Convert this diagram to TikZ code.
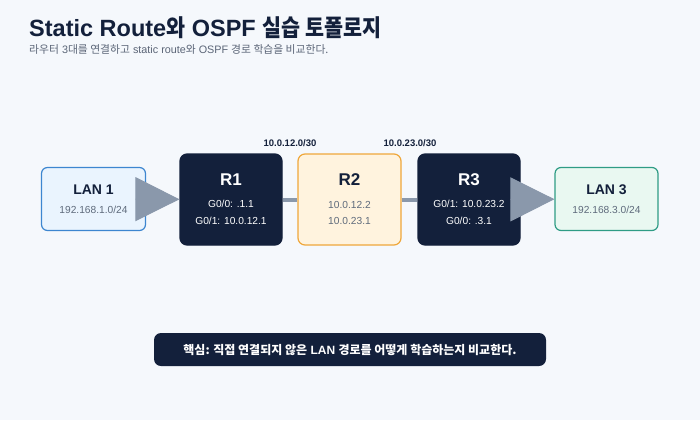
\documentclass[tikz,border=0pt]{standalone}
\usepackage{fontspec}
\setmainfont{Liberation Sans}
\newfontfamily\kofont{Noto Sans CJK KR}
\newfontfamily\kotitlefont[FakeStretch=0.88]{Noto Sans CJK KR}
\newcommand{\ko}[1]{{\kofont #1}}
\newcommand{\kotitle}[1]{{\kotitlefont #1}}
\usetikzlibrary{arrows.meta}

\definecolor{pagebg}{HTML}{F5F8FC}
\definecolor{navy}{HTML}{13203B}
\definecolor{subgray}{HTML}{5B6577}
\definecolor{ipgray}{HTML}{5F6B7C}
\definecolor{lanblue}{HTML}{EAF4FE}
\definecolor{lanblueline}{HTML}{3D86D0}
\definecolor{rtwofill}{HTML}{FFF3DE}
\definecolor{rtwoline}{HTML}{EFA73B}
\definecolor{langreen}{HTML}{E9F8F1}
\definecolor{langreenline}{HTML}{2F9C85}
\definecolor{linkgray}{HTML}{8A98AB}

\tikzset{
  box/.style={rectangle, rounded corners=7pt, minimum width=102pt, minimum height=91pt, inner sep=0pt, line width=1.2pt},
  router/.style={box, fill=navy, draw=navy},
  lan/.style={box, rounded corners=6pt, minimum width=104pt, minimum height=63pt},
  txt/.style={anchor=base, inner sep=0pt},
  boxname/.style={txt, font=\fontsize{17}{20}\selectfont\bfseries},
  lanname/.style={txt, font=\fontsize{14}{17}\selectfont\bfseries, text=navy},
  small/.style={txt, font=\fontsize{10.2}{12}\selectfont},
  subnet/.style={txt, font=\fontsize{9.5}{11}\selectfont\bfseries, text=navy},
  link/.style={draw=linkgray, line width=4pt},
  flow/.style={draw=linkgray, line width=1pt, -{Triangle[length=44pt,width=44pt]}, fill=linkgray},
}

\begin{document}
\begin{tikzpicture}[x=1pt, y=-1pt]
    % page and margins
    \fill[pagebg] (0,0) rectangle (700,420);
    \useasboundingbox (0,0) rectangle (700,420);

    % heading
    \node[anchor=base west, inner sep=0pt, text=navy, font=\fontsize{23.5}{28}\selectfont\bfseries]
      (title) at (29,37) {Static Route\kotitle{와} OSPF \kotitle{실습 토폴로지}};
    \node[anchor=base west, inner sep=0pt, text=subgray, font=\fontsize{10.8}{13}\selectfont]
      (subtitle) at (29,53.5) {\ko{라우터} 3\ko{대를 연결하고} static route\ko{와} OSPF \ko{경로 학습을 비교한다.}};

    % boxes
    \node[lan, fill=lanblue, draw=lanblueline] (lan1) at (93.5,199) {};
    \node[router] (r1) at (231,199.5) {};
    \node[box, minimum width=103pt, fill=rtwofill, draw=rtwoline] (r2) at (349.5,199.5) {};
    \node[router] (r3) at (469,199.5) {};
    \node[lan, minimum width=103pt, fill=langreen, draw=langreenline] (lan3) at (606.5,199) {};

    % point to point links
    \draw[link] (r1) -- (r2);
    \draw[link] (r2) -- (r3);
    \node[subnet] (net12) at (290,146.5) {10.0.12.0/30};
    \node[subnet] (net23) at (410,146.5) {10.0.23.0/30};

    % LAN 1
    \node[lanname] (lan1name) at (93.5,194) {LAN 1};
    \node[small, text=ipgray] (lan1ip) at (93.5,213) {192.168.1.0/24};
    % R1
    \node[boxname, text=white] (r1name) at (231,185) {R1};
    \node[small, text=white] (r1ga) at (231,207.7) {G0/0: .1.1};
    \node[small, text=white] (r1gb) at (231,224) {G0/1: 10.0.12.1};
    % R2
    \node[boxname, text=navy] (r2name) at (349.5,185) {R2};
    \node[small, text=ipgray] (r2ga) at (349.5,208) {10.0.12.2};
    \node[small, text=ipgray] (r2gb) at (349.5,224) {10.0.23.1};
    % R3
    \node[boxname, text=white] (r3name) at (469,185) {R3};
    \node[small, text=white] (r3ga) at (469,207.7) {G0/1: 10.0.23.2};
    \node[small, text=white] (r3gb) at (469,224) {G0/0: .3.1};
    % LAN 3
    \node[lanname] (lan3name) at (606.5,194) {LAN 3};
    \node[small, text=ipgray] (lan3ip) at (606.5,213) {192.168.3.0/24};

    % LAN arrows drawn over the box edges
    \draw[flow] (lan1) -- (r1);
    \draw[flow] (r3) -- (lan3);

    % key point banner
    \node[rectangle, rounded corners=7pt, fill=navy, minimum width=392pt, minimum height=33pt,
      text=white, font=\fontsize{12}{14}\selectfont\bfseries] (keynote) at (350,349.5)
      {\ko{핵심: 직접 연결되지 않은} LAN \ko{경로를 어떻게 학습하는지 비교한다.}};
\end{tikzpicture}
\end{document}
